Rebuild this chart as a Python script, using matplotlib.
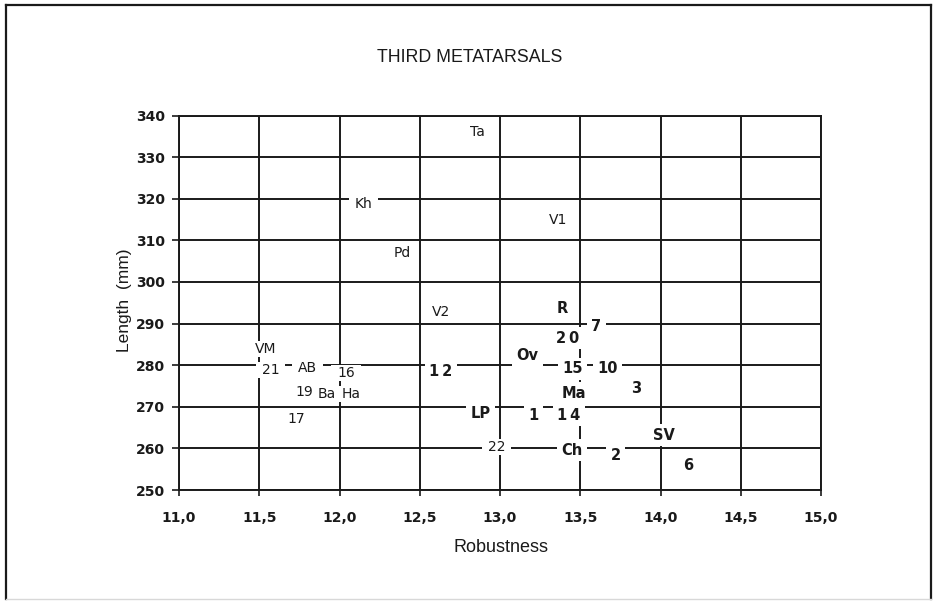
import matplotlib
matplotlib.use("Agg")
import matplotlib.pyplot as plt
from matplotlib.lines import Line2D
from matplotlib.path import Path

plt.rcParams["font.family"] = ["Liberation Sans", "DejaVu Sans"]

# Specimen labels (third metatarsals): robustness vs. length
small_labels = ["Ta", "Kh", "Pd", "V1", "V2", "VM", "21", "AB", "16", "19", "Ba", "Ha", "17", "22"]
small_x = [12.86, 12.15, 12.39, 13.36, 12.63, 11.54, 11.57, 11.80, 12.04, 11.78, 11.92, 12.07, 11.73, 12.98]
small_y = [336.0, 318.7, 307.0, 314.9, 292.7, 283.9, 278.8, 279.3, 278.1, 273.5, 273.1, 273.1, 267.1, 260.3]

bold_labels = ["R", "7", "2\u20090", "Ov", "1\u20092", "15", "10", "Ma", "3", "LP", "1", "1\u20094", "Ch", "2", "SV", "6"]
bold_x = [13.39, 13.60, 13.42, 13.17, 12.63, 13.45, 13.67, 13.46, 13.85, 12.88, 13.21, 13.43, 13.45, 13.72, 14.02, 14.17]
bold_y = [293.5, 289.4, 286.5, 282.4, 278.5, 279.1, 279.1, 273.3, 274.3, 268.3, 268.0, 268.0, 259.6, 258.4, 263.2, 256.0]

x_ticks = [11.0, 11.5, 12.0, 12.5, 13.0, 13.5, 14.0, 14.5, 15.0]
y_ticks = [250, 260, 270, 280, 290, 300, 310, 320, 330, 340]


def make_box(fx, fy):
    """White label background with separate side / top-bottom margins."""
    def style(x0, y0, width, height, mutation_size):
        px = fx * mutation_size
        py = fy * mutation_size
        return Path([(x0 - px, y0 - py), (x0 + width + px, y0 - py),
                     (x0 + width + px, y0 + height + py), (x0 - px, y0 + height + py),
                     (x0 - px, y0 - py)], closed=True)
    return style


fig = plt.figure(figsize=(9.33, 6.02), dpi=100)
ax = fig.add_axes([179 / 933, 1 - 490 / 602, (821 - 179) / 933, (490 - 115.5) / 602])

ax.set_xlim(11.0, 15.0)
ax.set_ylim(250, 340)
ax.set_xticks(x_ticks)
ax.set_xticklabels([f"{v:.1f}".replace(".", ",") for v in x_ticks])
ax.set_yticks(y_ticks)
ax.set_yticklabels([str(v) for v in y_ticks])
ax.grid(True, color="#1a1a1a", linewidth=1.4)
ax.set_axisbelow(True)
for s in ax.spines.values():
    s.set_color("#1a1a1a")
    s.set_linewidth(1.4)
ax.tick_params(axis="y", direction="out", length=5, width=1.2, pad=5, colors="#1a1a1a")
ax.tick_params(axis="x", direction="out", length=4, width=1.2, pad=11, colors="#1a1a1a")
for lab in ax.get_xticklabels() + ax.get_yticklabels():
    lab.set_fontfamily("DejaVu Sans")
    lab.set_fontweight("bold")
    lab.set_fontsize(10)

small_box = dict(boxstyle=make_box(0.42, 0.08), facecolor="white", edgecolor="none")
bold_box = dict(boxstyle=make_box(0.30, 0.22), facecolor="white", edgecolor="none")
for t, x, y in zip(small_labels, small_x, small_y):
    ax.text(x, y, t, ha="center", va="center", fontsize=10, family="DejaVu Sans",
            color="#1a1a1a", bbox=small_box, zorder=3)
for t, x, y in zip(bold_labels, bold_x, bold_y):
    ax.text(x, y, t, ha="center", va="center", fontsize=10.5, fontweight="bold",
            family="DejaVu Sans", color="#1a1a1a", bbox=bold_box, zorder=4)

fig.text(470 / 933, 1 - 58 / 602, "THIRD METATARSALS", ha="center", va="center", fontsize=12.8, color="#1a1a1a")
fig.text(501 / 933, 1 - 548 / 602, "Robustness", ha="center", va="center", fontsize=13, color="#1a1a1a")
fig.text(124 / 933, 1 - 300 / 602, "Length  (mm)", ha="center", va="center", rotation=90, fontsize=12.5, color="#1a1a1a")

# Outer chart frame
W, H = 933, 602
frame = [((6, 6), (599, 5)), ((6, 931), (5, 5)), ((931, 931), (5, 599))]
for xs, ys in frame:
    fig.add_artist(Line2D([x / W for x in xs], [1 - y / H for y in ys], color="#1a1a1a", linewidth=1.6))
fig.add_artist(Line2D([6 / W, 931 / W], [1 - 599 / H, 1 - 599 / H], color="#d8d8d8", linewidth=1.0))

fig.savefig("out.png", dpi=100, facecolor="white")
